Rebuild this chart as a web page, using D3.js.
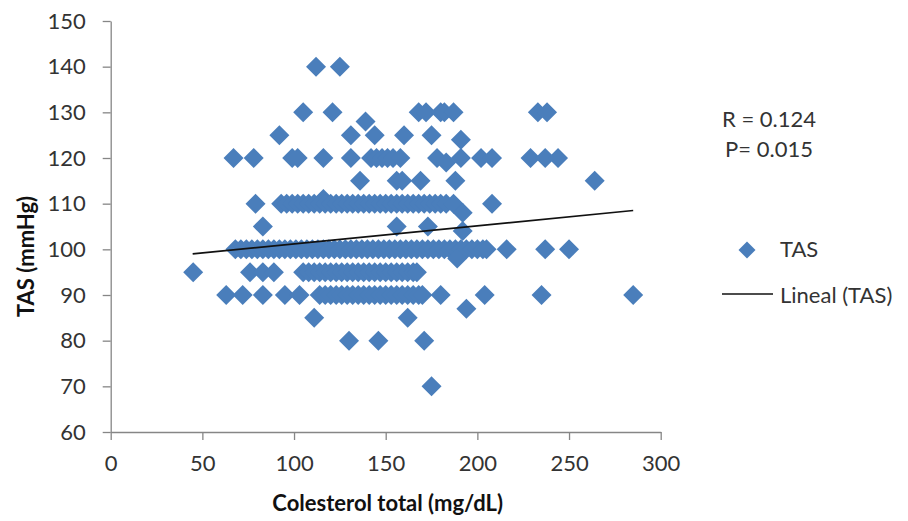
<!DOCTYPE html>
<html>
<head>
<meta charset="utf-8">
<script src="https://cdn.jsdelivr.net/npm/d3@7"></script>
<style>
  html, body { margin: 0; padding: 0; background: #fff; }
  svg { display: block; font-family: Lato, "Open Sans", sans-serif; }
</style>
</head>
<body>
<svg id="chart" width="908" height="521"></svg>
<script>
// ---- Data ----
// Colesterol total (mg/dL) values for each TAS (mmHg) level
const tas140 = [112, 125];
const tas130 = [105, 121, 168, 172, 180, 182, 187, 233, 238];
const tas128 = [139];
const tas125 = [92, 131, 144, 160, 175];
const tas124 = [191];
const tas120 = [67, 78, 99, 102, 116, 131, 142, 145, 148, 151, 154, 158, 178, 191, 202, 208, 229, 237, 244];
const tas119 = [183];
const tas115 = [136, 156, 159, 169, 188, 264];
const tas111 = [116];
const tas110 = [79, 93, 96, 99, 102, 105, 108, 111, 114, 117, 120, 123, 126, 129, 132, 135, 138, 141, 144, 147, 150, 153, 156, 159, 162, 165, 168, 171, 174, 177, 180, 183, 187, 208];
const tas108 = [192];
const tas105 = [83, 156, 173];
const tas104 = [192];
const tas100 = [68, 71, 74, 77, 80, 83, 86, 89, 92, 95, 98, 101, 104, 107, 110, 113, 116, 119, 122, 125, 128, 131, 134, 137, 140, 143, 146, 149, 152, 155, 158, 161, 164, 167, 170, 173, 176, 179, 182, 185, 188, 191, 194, 197, 200, 203, 205, 216, 237, 250];
const tas98  = [189];
const tas95  = [45, 76, 83, 89, 105, 108, 111, 114, 117, 120, 123, 126, 129, 132, 135, 138, 141, 144, 147, 150, 153, 156, 159, 162, 165, 167];
const tas90  = [63, 72, 83, 95, 103, 114, 117, 120, 123, 126, 129, 132, 135, 138, 141, 144, 147, 150, 153, 156, 159, 162, 165, 168, 170, 180, 204, 235, 285];
const tas87  = [194];
const tas85  = [111, 162];
const tas80  = [130, 146, 171];
const tas70  = [175];

const tasLevels = [140, 130, 128, 125, 124, 120, 119, 115, 111, 110, 108, 105, 104, 100, 98, 95, 90, 87, 85, 80, 70];
const colByLevel = [tas140, tas130, tas128, tas125, tas124, tas120, tas119, tas115, tas111, tas110, tas108, tas105, tas104, tas100, tas98, tas95, tas90, tas87, tas85, tas80, tas70];

// Linear trend line (Lineal (TAS)) endpoints
const trendX = [44.7, 285];
const trendY = [99.0, 108.5];

const xTicks = [0, 50, 100, 150, 200, 250, 300];
const yTicks = [60, 70, 80, 90, 100, 110, 120, 130, 140, 150];

const statLines = ["R = 0.124", "P= 0.015"];
const legendLabels = ["TAS", "Lineal (TAS)"];
const xTitle = "Colesterol total (mg/dL)";
const yTitle = "TAS (mmHg)";

// ---- Build points ----
const points = [];
tasLevels.forEach((lvl, i) => colByLevel[i].forEach(c => points.push({ x: c, y: lvl })));

// ---- Layout ----
const svg = d3.select("#chart");
const pLeft = 110.7, pRight = 660.7, pTop = 21, pBottom = 432;
const x = d3.scaleLinear().domain([0, 300]).range([pLeft, pRight]);
const y = d3.scaleLinear().domain([60, 150]).range([pBottom, pTop]);

const axisColor = "#868686";
const textColor = "#333333";
const markColor = "#4a7ebb";

// Axes
const gx = svg.append("g").attr("transform", `translate(0,${pBottom})`)
  .call(d3.axisBottom(x).tickValues(xTicks).tickSize(8).tickSizeOuter(0).tickPadding(15));
const gy = svg.append("g").attr("transform", `translate(${pLeft},0)`)
  .call(d3.axisLeft(y).tickValues(yTicks).tickSize(8).tickSizeOuter(0).tickPadding(17));
[gx, gy].forEach(g => {
  g.select(".domain").attr("stroke", axisColor).attr("stroke-width", 1.3);
  g.selectAll(".tick line").attr("stroke", axisColor).attr("stroke-width", 1.3);
  g.selectAll(".tick text").attr("fill", textColor).style("font-size", "22px").style("font-family", "Lato, sans-serif");
});

// Points
const diamond = d3.symbol().type(d3.symbolSquare).size(200);
svg.append("g").selectAll("path").data(points).join("path")
  .attr("d", diamond)
  .attr("transform", d => `translate(${x(d.x)},${y(d.y)}) rotate(45)`)
  .attr("fill", markColor);

// Trend line
const trend = trendX.map((v, i) => [v, trendY[i]]);
svg.append("path")
  .datum(trend)
  .attr("d", d3.line().x(d => x(d[0])).y(d => y(d[1])))
  .attr("stroke", "#111").attr("stroke-width", 1.6).attr("fill", "none");

// Axis titles
svg.append("text").attr("x", (pLeft + pRight) / 2 + 2).attr("y", 511)
  .attr("text-anchor", "middle").attr("fill", "#111")
  .style("font-size", "22px").style("font-weight", "bold").text(xTitle);
svg.append("text").attr("transform", `translate(34,${(pTop + pBottom) / 2 + 30}) rotate(-90)`)
  .attr("text-anchor", "middle").attr("fill", "#111")
  .style("font-size", "22px").style("font-weight", "bold").text(yTitle);

// Stats text
svg.selectAll(".stat").data(statLines).join("text").attr("class", "stat")
  .attr("x", 769).attr("y", (d, i) => 127 + i * 30)
  .attr("text-anchor", "middle").attr("fill", textColor)
  .style("font-size", "22px").text(d => d);

// Legend
svg.append("path").attr("d", d3.symbol().type(d3.symbolSquare).size(144))
  .attr("transform", "translate(747,250) rotate(45)").attr("fill", markColor);
svg.append("line").attr("x1", 722).attr("x2", 773).attr("y1", 294).attr("y2", 294)
  .attr("stroke", "#111").attr("stroke-width", 1.4);
svg.selectAll(".leg").data(legendLabels).join("text").attr("class", "leg")
  .attr("x", 780).attr("y", (d, i) => 257 + i * 46)
  .attr("fill", textColor).style("font-size", "22px").text(d => d);
</script>
</body>
</html>
